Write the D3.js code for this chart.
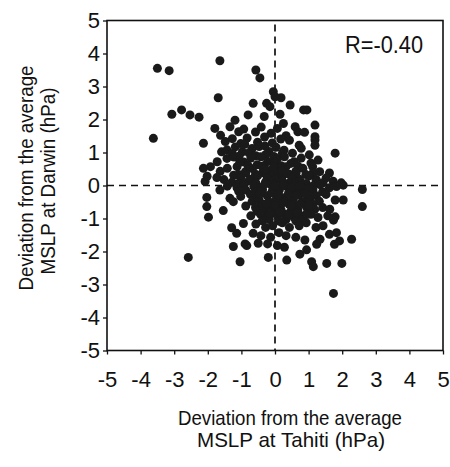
<!DOCTYPE html>
<html><head><meta charset="utf-8">
<script src="https://cdn.jsdelivr.net/npm/d3@7"></script>
<style>body{margin:0;background:#fff}svg text{font-family:"Liberation Sans",Arial,sans-serif;fill:#111}</style>
</head><body><svg id="c" width="450" height="467"></svg>
<script>
// Deviation from average MSLP at Tahiti (x) and Darwin (y), hPa
const tahiti = [
 -3.50,-3.15,-1.64,-1.69,-3.07,-2.78,-2.53,-2.26,-3.62,-1.79,
 -0.57,-0.45,-0.65,-1.19,-0.80,-1.34,-0.05,0.00,0.18,-0.25,
 -0.15,0.45,0.85,0.95,-0.32,0.15,0.25,0.60,0.68,1.19,
 1.19,-2.13,1.79,2.60,2.60,-2.58,-2.03,-2.03,-1.98,-1.04,
 -1.54,-0.94,-1.29,-1.14,-1.24,-0.89,-0.50,-0.20,0.35,0.74,
 0.94,1.34,1.09,1.54,1.99,2.28,2.03,1.74,1.74,-0.84,
 -0.65,0.89,1.24,1.14,2.03,1.19,1.19,1.79,1.79,-2.13,
 -2.08,-1.34,-1.24,-1.59,-1.64,
 -1.62,-1.08,-0.93,-0.58,-0.41,-0.12,0.07,0.33,0.88,
 -1.48,-1.27,-1.02,-0.83,-0.52,-0.31,-0.08,0.17,0.43,0.72,
 -1.43,-1.18,-0.97,-0.68,-0.47,-0.18,0.03,0.27,0.52,0.78,1.02,
 -1.27,-1.07,-0.78,-0.57,-0.27,-0.03,0.22,
 -1.72,-1.43,-1.22,-0.93,-0.72,-0.42,-0.22,0.07,0.28,0.57,0.78,1.07,1.28,
 -0.53,-0.32,-0.02,0.18,0.47,0.68,
 -1.92,-1.63,-1.42,-1.13,-0.88,-0.67,-0.38,-0.17,0.12,0.33,0.62,0.83,1.12,1.33,1.62,
 -1.08,-0.87,-0.58,-0.37,-0.08,0.13,0.42,0.63,0.92,1.13,
 -2.02,-1.73,-1.52,-1.23,-1.02,-0.73,-0.52,-0.23,0.02,0.23,0.52,0.73,1.02,1.23,1.52,1.73,1.97,
 -1.28,-1.07,-0.78,-0.57,-0.28,-0.07,0.22,0.43,0.72,0.93,1.22,1.43,
 -1.42,-1.13,-0.92,-0.63,-0.42,-0.13,0.12,0.33,0.62,0.83,1.12,1.33,1.62,1.83,
 -1.08,-0.87,-0.58,-0.37,-0.08,0.13,0.42,0.63,0.92,1.13,1.42,
 -1.02,-0.73,-0.52,-0.23,0.02,0.23,0.52,0.73,1.02,1.23,1.52,
 -0.68,-0.47,-0.18,0.03,0.32,0.53,0.82,1.03,1.32,
 -0.87,-0.58,-0.37,-0.08,0.13,0.42,0.63,0.92,1.13,1.42,1.63,
 -0.53,-0.32,-0.03,0.18,0.47,0.68,0.97,1.18,
 -0.72,-0.43,-0.22,0.07,0.28,0.57,0.78,1.07,1.28,1.57,
 -0.38,-0.17,0.12,0.33,0.62,0.83,
 -0.57,-0.28,-0.07,0.22,0.43,0.72,0.93,1.22,1.43,
 -0.42,-0.13,0.12,0.33,0.62,1.62,1.83,
 -0.22,0.07,0.28,1.77,1.92,
 -0.30,0.00,0.25,0.50,0.75,1.00,
 -0.45,-0.10,0.10,0.40,0.65,0.90,
 -0.25,0.00,0.25,0.50,0.75,1.00,
 -0.15,0.15,0.40,0.65,0.95,
 -0.30,-0.05,0.20,-0.80,-1.05,-0.30,-0.90
];
const darwin = [
 3.55,3.48,3.78,2.66,2.16,2.29,2.14,2.07,1.43,1.73,
 3.50,3.26,2.49,1.98,2.14,1.78,2.84,2.69,2.66,2.49,
 2.39,2.44,2.29,2.29,2.09,2.16,1.88,1.78,1.63,1.83,
 1.48,1.28,0.98,-0.12,-0.64,-2.18,-0.36,-0.64,-0.96,-2.31,
 -0.76,-1.15,-1.28,-1.45,-1.85,-1.77,-1.75,-2.18,-2.26,-2.08,
 -1.95,-1.63,-2.31,-2.36,-2.36,-1.63,-0.44,-1.05,-3.27,-1.82,
 -1.45,-1.65,-1.78,-2.46,0.01,1.38,1.22,-0.44,-0.95,0.52,
 0.12,-0.39,-0.49,1.02,-0.14,
 1.52,1.63,1.71,1.62,1.77,1.58,1.73,1.51,1.61,
 1.33,1.42,1.27,1.44,1.31,1.47,1.29,1.41,1.37,1.22,
 1.08,1.17,1.02,1.12,1.18,1.03,1.16,1.07,0.98,1.13,0.93,
 0.97,0.89,0.99,0.90,0.94,0.88,0.98,
 0.72,0.82,0.86,0.71,0.83,0.87,0.73,0.81,0.87,0.72,0.83,0.68,0.77,
 0.63,0.60,0.68,0.60,0.67,0.59,
 0.57,0.43,0.52,0.57,0.42,0.51,0.58,0.43,0.52,0.57,0.43,0.52,0.57,0.42,0.38,
 0.33,0.38,0.34,0.39,0.33,0.38,0.34,0.39,0.33,0.38,
 0.28,0.24,0.18,0.31,0.22,0.19,0.29,0.23,0.18,0.31,0.22,0.19,0.29,0.18,0.23,0.13,0.08,
 0.10,0.07,0.14,0.08,0.11,0.06,0.14,0.08,0.12,0.06,0.14,0.08,
 -0.02,-0.07,0.03,-0.03,-0.06,0.03,-0.07,-0.02,0.03,-0.08,-0.02,0.03,-0.07,-0.03,
 -0.18,-0.14,-0.19,-0.13,-0.18,-0.14,-0.19,-0.13,-0.18,-0.14,-0.19,
 -0.33,-0.27,-0.37,-0.31,-0.27,-0.37,-0.31,-0.27,-0.37,-0.31,-0.27,
 -0.48,-0.44,-0.49,-0.43,-0.48,-0.44,-0.49,-0.43,-0.48,
 -0.62,-0.67,-0.57,-0.67,-0.62,-0.57,-0.67,-0.62,-0.57,-0.67,-0.72,
 -0.78,-0.74,-0.79,-0.73,-0.78,-0.74,-0.79,-0.73,
 -0.92,-0.87,-0.97,-0.92,-0.87,-0.97,-0.92,-0.87,-0.97,-0.92,
 -1.07,-1.03,-1.08,-1.03,-1.07,-1.03,
 -1.17,-1.27,-1.22,-1.13,-1.27,-1.22,-1.13,-1.27,-1.22,
 -1.52,-1.57,-1.43,-1.52,-1.57,-1.48,-1.43,
 -1.77,-1.82,-1.87,-1.78,-1.68,
 0.05,0.00,0.02,-0.05,0.00,-0.10,
 -0.25,-0.22,-0.28,-0.25,-0.30,-0.25,
 -0.55,-0.60,-0.52,-0.60,-0.55,-0.60,
 -0.85,-0.80,-0.88,-0.82,-0.88,
 0.50,0.55,0.45,0.60,0.70,1.20,1.25
];
const xTicks = [-5,-4,-3,-2,-1,0,1,2,3,4,5];
const yTicks = [-5,-4,-3,-2,-1,0,1,2,3,4,5];
const corrLabel = "R=-0.40";
const xTitle = ["Deviation from the average", "MSLP at Tahiti (hPa)"];
const yTitle = ["Deviation from the average", "MSLP at Darwin (hPa)"];

const svg = d3.select("#c");
const x = d3.scaleLinear().domain([-5,5]).range([107,443]);
const y = d3.scaleLinear().domain([-5,5]).range([350.5,20.5]);

// zero reference lines
svg.append("line").attr("x1", x(0)).attr("x2", x(0)).attr("y1", y(5)+4).attr("y2", y(-5))
  .attr("stroke","#111").attr("stroke-width",1.7).attr("stroke-dasharray","7,5");
svg.append("line").attr("x1", x(-5)).attr("x2", x(5)).attr("y1", y(0)).attr("y2", y(0))
  .attr("stroke","#111").attr("stroke-width",1.7).attr("stroke-dasharray","7,5");

// points
const n = Math.min(tahiti.length, darwin.length);
svg.append("g").selectAll("circle").data(d3.range(n)).join("circle")
  .attr("cx", i => x(tahiti[i])).attr("cy", i => y(darwin[i])).attr("r", 4.5)
  .attr("fill", "#1a1a1a");

// frame
svg.append("rect").attr("x", x(-5)).attr("y", y(5)).attr("width", x(5)-x(-5)).attr("height", y(-5)-y(5))
  .attr("fill","none").attr("stroke","#111").attr("stroke-width",1.6);

// axes
const fmt = d => String(d);
const xa = svg.append("g").attr("transform", `translate(0,${y(-5)})`)
  .call(d3.axisBottom(x).tickValues(xTicks).tickFormat(fmt).tickSize(4).tickPadding(17));
const ya = svg.append("g").attr("transform", `translate(${x(-5)},0)`)
  .call(d3.axisLeft(y).tickValues(yTicks).tickFormat(fmt).tickSize(4).tickPadding(3));
[xa, ya].forEach(g => {
  g.select(".domain").remove();
  g.selectAll("line").attr("stroke","#111").attr("stroke-width",1.3);
  g.selectAll("text").attr("font-size", 22).attr("font-family", '"Liberation Sans", Arial, sans-serif').attr("fill","#111");
});

// correlation label
svg.append("text").attr("x", 384).attr("y", 53).attr("text-anchor","middle")
  .attr("font-size", 24).attr("textLength", 78).attr("lengthAdjust","spacingAndGlyphs").text(corrLabel);

// x title
svg.append("text").attr("x", 290).attr("y", 425).attr("text-anchor","middle").attr("font-size", 21)
  .attr("textLength", 224).attr("lengthAdjust","spacingAndGlyphs").text(xTitle[0]);
svg.append("text").attr("x", 291).attr("y", 447).attr("text-anchor","middle").attr("font-size", 21)
  .attr("textLength", 188).attr("lengthAdjust","spacingAndGlyphs").text(xTitle[1]);

// y title
svg.append("text").attr("transform","translate(33,178) rotate(-90)").attr("text-anchor","middle").attr("font-size", 21)
  .attr("textLength", 225).attr("lengthAdjust","spacingAndGlyphs").text(yTitle[0]);
svg.append("text").attr("transform","translate(55,181) rotate(-90)").attr("text-anchor","middle").attr("font-size", 21)
  .attr("textLength", 187).attr("lengthAdjust","spacingAndGlyphs").text(yTitle[1]);
</script></body></html>
